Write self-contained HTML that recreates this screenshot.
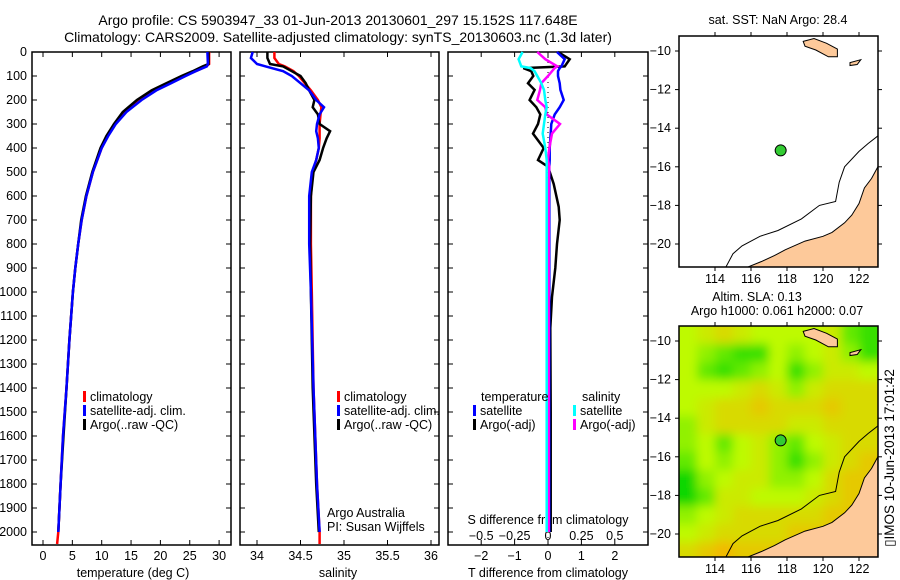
<!DOCTYPE html>
<html><head><meta charset="utf-8"><style>
html,body{margin:0;padding:0;background:#fff;}
svg{display:block;font-family:"Liberation Sans",sans-serif;}
text{font-size:12.5px;fill:#000;}
</style></head><body>
<svg id="chart" width="900" height="580" viewBox="0 0 900 580" xmlns="http://www.w3.org/2000/svg">
<text x="338" y="25" text-anchor="middle" style="font-size:14px">Argo profile: CS 5903947_33 01-Jun-2013 20130601_297 15.152S 117.648E</text>
<text x="338" y="42" text-anchor="middle" style="font-size:14px">Climatology: CARS2009. Satellite-adjusted climatology: synTS_20130603.nc (1.3d later)</text>
<g id="p1"></g>
<g id="p2"></g>
<g id="p3"></g>
<g id="m1"></g>
<g id="m2"></g>
<text transform="translate(894,458) rotate(-90)" text-anchor="middle" style="font-size:13.5px">▯IMOS 10-Jun-2013 17:01:42</text>
</svg>
<script>
// ---- data ----
const depthTicks=[0,100,200,300,400,500,600,700,800,900,1000,1100,1200,1300,1400,1500,1600,1700,1800,1900,2000];
const tempTicks=[0,5,10,15,20,25,30];
const salTicks=[34,34.5,35,35.5,36];
const salTickLabels=["34","34.5","35","35.5","36"];
const tdiffTicks=[-2,-1,0,1,2];
const sdiffTicks=[-0.5,-0.25,0,0.25,0.5];
const sdiffTickLabels=["-0.5","-0.25","0","0.25","0.5"];
const depthT=[0,50,60,80,100,130,160,200,250,300,350,400,500,600,700,800,900,1000,1200,1400,1600,1800,2000,2050];
const tempClim=[28.3,28.3,27.8,26,24,21.5,19,16.5,14,12.3,11,10,8.5,7.4,6.6,6.0,5.5,5.1,4.5,4.0,3.4,3.0,2.6,2.4];
const tempSat=[28.0,28.1,27.9,26,24.3,21.8,19.3,16.8,14.2,12.4,11.1,10,8.5,7.4,6.6,6.0,5.5,5.1,4.5,4.0,3.4,3.0,2.6];
const tempArgo=[28.2,28.2,27.2,25.5,23.6,21,18.5,16,13.6,12.1,10.8,9.8,8.4,7.3,6.5,6.0,5.5,5.1,4.5,4.0,3.5,3.0,2.6];
const depthS=[0,25,50,60,80,100,130,160,200,230,260,300,330,360,400,450,500,600,800,1000,1400,1800,2000,2050];
const salClim=[34.2,34.2,34.25,34.32,34.42,34.48,34.55,34.62,34.7,34.74,34.73,34.72,34.72,34.72,34.71,34.68,34.64,34.62,34.62,34.63,34.65,34.69,34.72,34.72];
const salSat=[33.95,33.93,34.0,34.1,34.3,34.4,34.5,34.6,34.68,34.77,34.72,34.69,34.68,34.7,34.71,34.68,34.63,34.6,34.6,34.62,34.65,34.69,34.72];
const salArgo=[34.12,34.12,34.15,34.3,34.4,34.5,34.56,34.6,34.66,34.64,34.7,34.72,34.84,34.8,34.76,34.72,34.65,34.62,34.61,34.62,34.64,34.68,34.71];
const depthD=[0,30,60,67,80,100,130,158,200,230,260,300,340,400,450,478,550,645,700,800,900,1020,1150,1500,2000];
const tdiffArgo=[0.3,0.65,0.5,-0.74,-0.5,-0.44,-0.6,-0.4,-0.55,-0.35,-0.23,-0.3,-0.45,-0.13,-0.3,0,0.17,0.32,0.35,0.27,0.22,0.12,0.07,0.08,0.08];
const tdiffSat=[0.27,0.5,0.4,0.35,0.3,0.3,0.35,0.37,0.47,0.35,0.2,0.1,0.08,0.05,0.05,0.04,0.04,0.04,0.04,0.04,0.04,0.04,0.04,0.04,0.04];
const sdiffSat=[-0.19,-0.22,-0.2,-0.13,-0.1,-0.08,-0.05,-0.03,-0.02,-0.01,-0.02,-0.03,-0.04,-0.02,-0.01,-0.01,-0.01,-0.01,-0.01,-0.01,-0.01,-0.01,-0.01,-0.01,-0.01];
const sdiffArgo=[-0.08,-0.02,0.07,0.05,0.03,0,-0.05,-0.06,-0.08,-0.02,-0.01,0.09,0.03,0.01,0,0.01,0.005,0.005,0.005,0.005,0.005,0.005,0.005,0.005,0.005];
const lonTicks=[114,116,118,120,122];
const latTicks=[-10,-12,-14,-16,-18,-20];
const argoLon=117.648, argoLat=-15.152;
const slaGrid=[
[0.5,0.4,0.3,0.4,0.5,0.5,0.5,0.5,0.4,0.7,0.8],
[0.5,0.6,0.7,0.8,0.8,0.5,0.6,0.5,0.4,0.6,0.8],
[0.5,0.7,0.8,0.7,0.6,0.5,0.8,0.6,0.4,0.4,0.5],
[0.5,0.5,0.5,0.4,0.3,0.4,0.6,0.4,0.3,0.3,0.3],
[0.5,0.4,0.3,0.3,0.2,0.3,0.3,0.3,0.2,0.3,0.3],
[0.6,0.4,0.3,0.3,0.3,0.3,0.4,0.4,0.3,0.3,0.3],
[0.6,0.5,0.7,0.5,0.4,0.6,0.7,0.5,0.4,0.3,0.3],
[0.7,0.5,0.6,0.5,0.4,0.6,0.8,0.6,0.4,0.3,0.2],
[0.9,0.6,0.5,0.4,0.4,0.6,0.6,0.5,0.3,0.2,0.2],
[0.9,0.7,0.4,0.4,0.5,0.5,0.5,0.4,0.3,0.2,0.2],
[0.6,0.5,0.4,0.3,0.3,0.3,0.3,0.3,0.2,0.2,0.2],
[0.5,0.4,0.3,0.3,0.3,0.3,0.2,0.2,0.2,0.2,0.1],
[0.3,0.2,0.1,0.2,0.2,0.2,0.2,0.2,0.2,0.1,0.1]];
// coastlines (lon,lat)
const island1=[[118.9,-9.5],[119.5,-9.35],[120.2,-9.6],[120.8,-9.9],[120.8,-10.3],[120.3,-10.3],[119.6,-9.95],[119.0,-9.75]];
const island2=[[121.5,-10.6],[122.1,-10.45],[121.9,-10.7],[121.5,-10.75]];
const ausCoast=[[115.8,-21.2],[116.6,-20.9],[117.3,-20.6],[117.9,-20.3],[119.0,-19.85],[120.0,-19.6],[120.5,-19.4],[121.2,-18.9],[121.6,-18.5],[122.0,-17.9],[122.3,-17.1],[122.7,-16.6],[123.05,-16.0],[123.05,-21.2]];
const bathy=[[114.6,-21.2],[115.0,-20.5],[115.5,-20.1],[116.5,-19.6],[117.5,-19.3],[118.8,-18.7],[119.8,-18.0],[120.7,-17.8],[120.9,-16.8],[121.2,-16.0],[122.0,-15.2],[122.5,-14.8],[123.05,-14.4]];

const NS="http://www.w3.org/2000/svg";
function mk(parent,tag,attrs){const e=document.createElementNS(NS,tag);for(const k in attrs)e.setAttribute(k,attrs[k]);parent.appendChild(e);return e;}
const yTop=52, yScale=0.24;
function yD(d){return yTop+d*yScale;}
function lineStr(xs,ds,xf){return xs.map((v,i)=>xf(v).toFixed(1)+","+yD(ds[i]).toFixed(1)).join(" ");}
function panelFrame(g,x0,x1,xTickVals,xf,name){
  const r=mk(g,'rect',{x:x0,y:52,width:x1-x0,height:493,fill:'none',stroke:'#000','stroke-width':1.5});
  
  
  depthTicks.forEach(d=>{
    mk(g,'line',{x1:x0,x2:x0+5,y1:yD(d),y2:yD(d),stroke:'#000'});
    mk(g,'line',{x1:x1-5,x2:x1,y1:yD(d),y2:yD(d),stroke:'#000'});
  });
  xTickVals.forEach(v=>{
    mk(g,'line',{x1:xf(v),x2:xf(v),y1:52,y2:57,stroke:'#000'});
    mk(g,'line',{x1:xf(v),x2:xf(v),y1:540,y2:545,stroke:'#000'});
  });
}
function series(g,xs,ds,xf,color,name,w){
  const p=mk(g,'polyline',{points:lineStr(xs,ds,xf),fill:'none',stroke:color,'stroke-width':w||2.5,'stroke-linejoin':'miter'});
  
  
}
function txt(g,x,y,s,anchor,name,size){
  const t=mk(g,'text',{x:x,y:y,'text-anchor':anchor||'start'});
  if(size)t.setAttribute('style','font-size:'+size+'px');
  t.textContent=s;
  
  
  return t;
}
function legItem(g,x,y,color,label,name){
  mk(g,'rect',{x:x,y:y-10,width:3,height:11,fill:color});
  txt(g,x+7,y,label,'start',name);
}
// Panel 1
const p1=document.getElementById('p1');
const xT=v=>43+v*5.87;
panelFrame(p1,32,231,tempTicks,xT,'temperature-panel');
depthTicks.forEach(d=>txt(p1,27,yD(d)+4,String(d),'end','depth-tick-label'));
tempTicks.forEach(v=>txt(p1,xT(v),560,String(v),'middle','temperature-tick-label'));
txt(p1,133,577,'temperature (deg C)','middle','temperature-axis-title');
series(p1,tempClim,depthT,xT,'#f00','temperature-climatology-line');
series(p1,tempArgo,depthT,xT,'#000','temperature-argo-line');
series(p1,tempSat,depthT,xT,'#00f','temperature-satellite-line');
legItem(p1,83,401,'#f00','climatology','legend-climatology');
legItem(p1,83,415,'#00f','satellite-adj. clim.','legend-satellite');
legItem(p1,83,429,'#000','Argo(..raw -QC)','legend-argo');
// Panel 2
const p2=document.getElementById('p2');
const xS=v=>257+(v-34)*87;
panelFrame(p2,240,439,salTicks,xS,'salinity-panel');
salTicks.forEach((v,i)=>txt(p2,xS(v),560,salTickLabels[i],'middle','salinity-tick-label'));
txt(p2,338,577,'salinity','middle','salinity-axis-title');
series(p2,salClim,depthS,xS,'#f00','salinity-climatology-line');
series(p2,salArgo,depthS,xS,'#000','salinity-argo-line');
series(p2,salSat,depthS,xS,'#00f','salinity-satellite-line');
legItem(p2,337,401,'#f00','climatology','legend-climatology');
legItem(p2,337,415,'#00f','satellite-adj. clim.','legend-satellite');
legItem(p2,337,429,'#000','Argo(..raw -QC)','legend-argo');
txt(p2,327,517,'Argo Australia','start','credit-argo-australia');
txt(p2,327,531,'PI: Susan Wijffels','start','credit-pi');
// Panel 3
const p3=document.getElementById('p3');
const xTd=v=>548+v*33.4;
const xSd=v=>548+v*133.6;
panelFrame(p3,448,648,tdiffTicks,xTd,'difference-panel');
mk(p3,'line',{x1:548,x2:548,y1:52,y2:545,stroke:'#000','stroke-dasharray':'1,4'});
tdiffTicks.forEach(v=>txt(p3,xTd(v),560,v<0?'−'+Math.abs(v):String(v),'middle','tdiff-tick-label'));
sdiffTicks.forEach((v,i)=>txt(p3,xSd(v),540,sdiffTickLabels[i].replace('-','−'),'middle','sdiff-tick-label'));
txt(p3,548,524,'S difference from climatology','middle','sdiff-axis-title');
txt(p3,548,577,'T difference from climatology','middle','tdiff-axis-title');
series(p3,tdiffArgo,depthD,xTd,'#000','tdiff-argo-line');
series(p3,tdiffSat,depthD,xTd,'#00f','tdiff-satellite-line');
series(p3,sdiffArgo,depthD,xSd,'#f0f','sdiff-argo-line');
series(p3,sdiffSat,depthD,xSd,'#0ff','sdiff-satellite-line');
txt(p3,481,401,'temperature','start','legend-temperature-heading');
legItem(p3,473,415,'#00f','satellite','legend-t-satellite');
legItem(p3,473,429,'#000','Argo(-adj)','legend-t-argo');
txt(p3,582,401,'salinity','start','legend-salinity-heading');
legItem(p3,573,415,'#0ff','satellite','legend-s-satellite');
legItem(p3,573,429,'#f0f','Argo(-adj)','legend-s-argo');
// Maps
function drawMap(g,yOff,name,withGrid){
  const x0=679,x1=878,top=36+yOff,bot=267+yOff;
  const lx=v=>715+(v-114)*18;
  const ly=v=>51+yOff+(-10-v)*19.3;
  const clipId='clip'+name;
  const defs=mk(g,'defs',{});
  const cp=mk(defs,'clipPath',{id:clipId});
  mk(cp,'rect',{x:x0,y:top,width:x1-x0,height:bot-top});
  const inner=mk(g,'g',{'clip-path':'url(#'+clipId+')'});
  if(withGrid){
    const filt=mk(defs,'filter',{id:'blur'+name,x:'-10%',y:'-10%',width:'120%',height:'120%'});
    mk(filt,'feGaussianBlur',{stdDeviation:5});
    const hg=mk(inner,'g',{filter:'url(#blur'+name+')'});
    
    
    mk(hg,'rect',{x:x0-20,y:top-20,width:240,height:270,fill:'#c0f000'});
    const cw=18,ch=18;
    function col(v){
      if(v>=0.5){const t=(v-0.5)/0.4;return 'rgb('+Math.round(190-180*t)+','+Math.round(250-35*t)+',0)';}
      const t=(0.5-v)/0.4;return 'rgb('+Math.round(190+52*t)+','+Math.round(250-65*t)+',0)';
    }
    slaGrid.forEach((row,r)=>row.forEach((v,c)=>{
      const cell=mk(hg,'rect',{x:x0+c*cw-(c==0?15:0),y:top+r*ch-(r==0?15:0),width:cw+(c==0?15:0)+(c==10?15:0),height:ch+(r==0?15:0)+(r==12?20:0),fill:col(v)});
      
      
    }));
  }
  const poly=(pts,fill,stroke,nm)=>{const p=mk(inner,'polygon',{points:pts.map(p=>lx(p[0]).toFixed(1)+','+ly(p[1]).toFixed(1)).join(' '),fill:fill,stroke:stroke,'stroke-width':1});};
  poly(island1,'#fdc99a','#000','island-sumba');
  poly(island2,'#fdc99a','#000','island-small');
  poly(ausCoast,'#fdc99a','#000','australia-coast');
  const b=mk(inner,'polyline',{points:bathy.map(p=>lx(p[0]).toFixed(1)+','+ly(p[1]).toFixed(1)).join(' '),fill:'none',stroke:'#000','stroke-width':1});
  
  
  const dot=mk(g,'circle',{cx:lx(argoLon),cy:ly(argoLat),r:5.5,fill:'#3c3',stroke:'#000','stroke-width':1});
  
  
  const fr=mk(g,'rect',{x:x0,y:top,width:x1-x0,height:bot-top,fill:'none',stroke:'#000','stroke-width':1.5});
  
  
  lonTicks.forEach(v=>{
    mk(g,'line',{x1:lx(v),x2:lx(v),y1:top-4,y2:top,stroke:'#000'});
    mk(g,'line',{x1:lx(v),x2:lx(v),y1:bot,y2:bot+4,stroke:'#000'});
    txt(g,lx(v),bot+16,String(v),'middle','longitude-tick-label');
  });
  latTicks.forEach(v=>{
    mk(g,'line',{x1:x0-4,x2:x0,y1:ly(v),y2:ly(v),stroke:'#000'});
    mk(g,'line',{x1:x1,x2:x1+4,y1:ly(v),y2:ly(v),stroke:'#000'});
    txt(g,x0-8,ly(v)+4,'−'+Math.abs(v),'end','latitude-tick-label');
  });
}
const m1=document.getElementById('m1');
txt(m1,778,24,'sat. SST: NaN Argo: 28.4','middle','sst-map-title');
drawMap(m1,0,'sstmap',false);
const m2=document.getElementById('m2');
txt(m2,757,301,'Altim. SLA: 0.13','middle','sla-map-title');
txt(m2,777,315,'Argo h1000: 0.061 h2000: 0.07','middle','sla-map-subtitle');
drawMap(m2,290,'slamap',true);
</script>
</body></html>
